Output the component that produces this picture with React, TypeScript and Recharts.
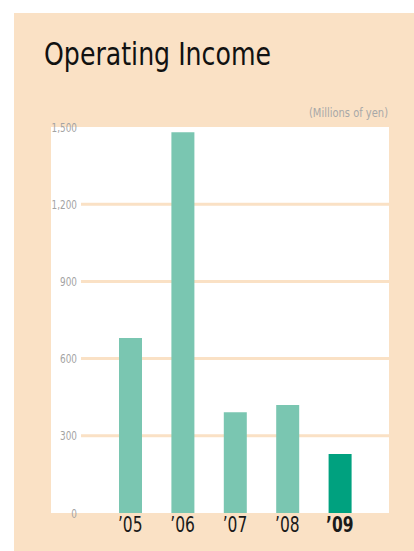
import { Bar, BarChart, CartesianGrid, Cell, XAxis, YAxis } from "recharts";

const years = ["’05", "’06", "’07", "’08", "’09"];
const income = [680, 1480, 392, 420, 229];
const yTicks = [0, 300, 600, 900, 1200, 1500];
const gridValues = [300, 600, 900, 1200];

const BEIGE = "#FAE1C5";
const BAR = "#7AC6B1";
const BAR_CURRENT = "#00A17F";
const FONT = '"Liberation Sans Narrow", "DejaVu Sans Condensed", "Roboto Condensed", "DejaVu Sans", sans-serif';

const data = years.map((year, i) => ({ year, value: income[i] }));

// condensed look: squeeze the text horizontally around its anchor
function YearTick({ x, y, payload, index }: any) {
    const last = index === years.length - 1;
    return (
        <g transform={`translate(${x},${y}) scale(0.82,1)`}>
            <text
                x={0}
                y={0}
                dy="0.71em"
                textAnchor="middle"
                fontSize={21}
                fontFamily={FONT}
                fontWeight={last ? "bold" : "normal"}
                fill="#1a1a1a"
            >
                {payload.value}
            </text>
        </g>
    );
}

function ValueTick({ x, y, payload }: any) {
    return (
        <g transform={`translate(${x},${y}) scale(0.76,1)`}>
            <text x={0} y={0} dy="0.355em" textAnchor="end" fontSize={13} fontFamily={FONT} fill="#A3A3A3">
                {Number(payload.value).toLocaleString("en-US")}
            </text>
        </g>
    );
}

export default function App() {
    return (
        <div style={{ position: "absolute", left: 0, top: 0, width: 414, height: 551, background: "#fff", fontFamily: FONT }}>
            <div style={{ position: "absolute", left: 14, top: 13, width: 400, height: 538, background: BEIGE }} />
            <div style={{ position: "absolute", left: 51, top: 127, width: 338, height: 386, background: "#fff" }} />
            <svg width={414} height={551} style={{ position: "absolute", left: 0, top: 0 }}>
                <text x={44} y={65} fontSize={32} fontFamily={FONT} fill="#111" textLength={227} lengthAdjust="spacingAndGlyphs">
                    Operating Income
                </text>
                <text x={309} y={117} fontSize={13} fontFamily={FONT} fill="#A8A8A8" textLength={79} lengthAdjust="spacingAndGlyphs">
                    (Millions of yen)
                </text>
            </svg>
            <div style={{ position: "absolute", left: 0, top: 0 }}>
                <BarChart width={414} height={551} data={data} margin={{ top: 127, right: 25, bottom: 8, left: 31 }}>
                    <CartesianGrid
                        vertical={false}
                        horizontalValues={gridValues}
                        stroke={BEIGE}
                        strokeWidth={3}
                    />
                    <XAxis
                        dataKey="year"
                        height={30}
                        axisLine={false}
                        tickLine={false}
                        tickSize={0}
                        tickMargin={4}
                        padding={{ left: 23, right: 23 }}
                        interval={0}
                        tick={<YearTick />}
                    />
                    <YAxis
                        width={50}
                        domain={[0, 1500]}
                        ticks={yTicks}
                        axisLine={false}
                        tickLine={false}
                        tickSize={0}
                        tickMargin={4}
                        tick={<ValueTick />}
                    />
                    <Bar dataKey="value" barSize={23} isAnimationActive={false}>
                        {data.map((_, i) => (
                            <Cell key={i} fill={i === data.length - 1 ? BAR_CURRENT : BAR} />
                        ))}
                    </Bar>
                </BarChart>
            </div>
        </div>
    );
}
